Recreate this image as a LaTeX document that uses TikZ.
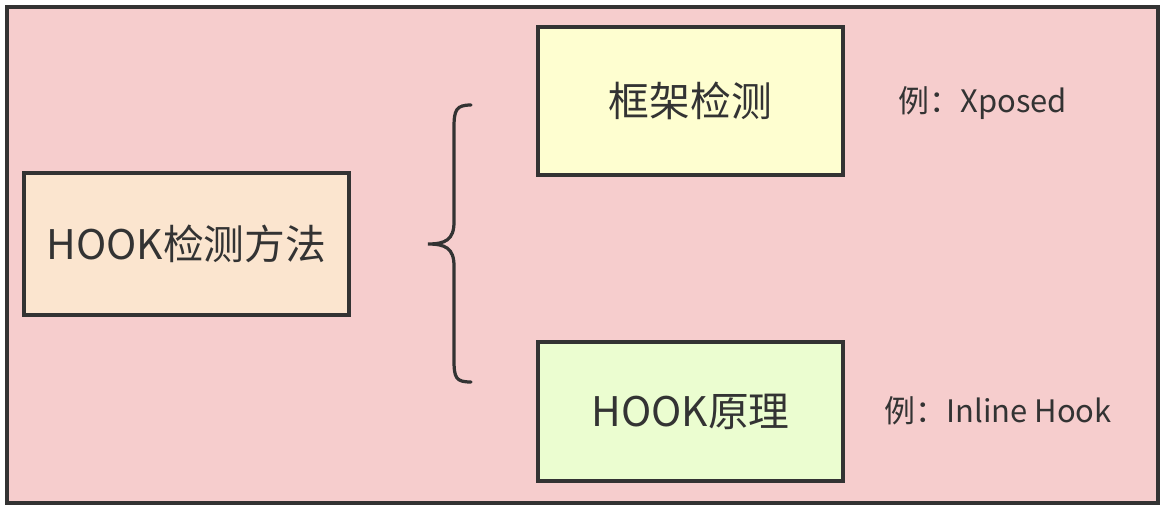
\documentclass[tikz,border=0pt]{standalone}
\usepackage{fontspec}
\setmainfont{Noto Sans CJK SC}
\usepackage{xcolor}
\usetikzlibrary{positioning}

\definecolor{ink}{HTML}{333333}
\definecolor{bgpink}{HTML}{F6CDCD}
\definecolor{peach}{HTML}{FBE5CF}
\definecolor{paleyellow}{HTML}{FEFED0}
\definecolor{palegreen}{HTML}{EBFDD0}

\begin{document}
\begin{tikzpicture}[
  x=0.025cm, y=-0.025cm,
  frame/.style={draw=ink, line width=2.5pt, fill=bgpink},
  box/.style={draw=ink, line width=2.5pt, align=center, text=ink, font=\fontsize{29}{35}\selectfont, inner sep=0pt},
  note/.style={text=ink, font=\fontsize{22}{27}\selectfont, inner sep=0pt},
  brace/.style={draw=ink, line width=2.3pt, line cap=round}]
  \useasboundingbox (0,0) rectangle (1168,512);
  \draw[frame] (7,7) rectangle (1158,503);
  \node[box, fill=peach, minimum width=8.125cm, minimum height=3.55cm] (method) at (186.5,244) {HOOK检测方法};
  \node[box, fill=paleyellow, minimum width=7.625cm, minimum height=3.7cm] (frame) at (690.5,101) {框架检测};
  \node[box, fill=palegreen, minimum width=7.625cm, minimum height=3.475cm] (theory) at (690.5,411.5) {HOOK原理};
  \node[note] (xposed) at (983,103) {例：Xposed};
  \node[note] (inline) at (998,411) {例：Inline Hook};
  % curly brace
  \coordinate (btop) at (471,105);
  \coordinate (btip) at (428,244);
  \coordinate (bbot) at (471,382);
  \draw[brace] (btop) .. controls (456,105) and (454,110) .. (454,128)
    -- (454,222) .. controls (454,240) and (445,244) .. (btip)
    .. controls (445,244) and (454,248) .. (454,266)
    -- (454,360) .. controls (454,378) and (456,382) .. (bbot);
\end{tikzpicture}
\end{document}
